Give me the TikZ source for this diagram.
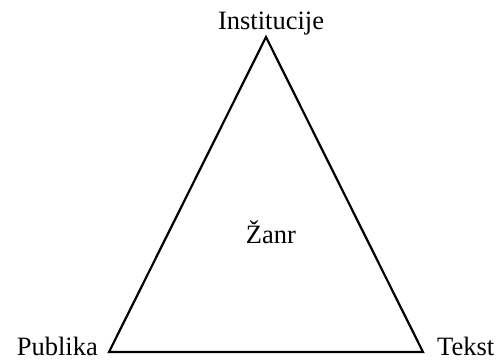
\documentclass[tikz,border=0pt]{standalone}
\usepackage{fontspec}
\setmainfont{Liberation Serif}
\usetikzlibrary{positioning}
\begin{document}
\begin{tikzpicture}[x=1pt, y=1pt,
  lbl/.style={font=\fontsize{26.5}{30}\selectfont, inner sep=0pt},
  side/.style={line width=2.2pt, line join=miter},
]
  \useasboundingbox (0,0) rectangle (500,360);
  % corners
  \coordinate (inst) at (266,323);
  \coordinate (pub)  at (109,8);
  \coordinate (tek)  at (423,8);
  % labels
  \node[lbl, anchor=base]      (linst) at (271,331) {Institucije};
  \node[lbl, anchor=base east] (lpub)  at (98,5)    {Publika};
  \node[lbl, anchor=base west] (ltek)  at (437,5)   {Tekst};
  \node[lbl, anchor=base]      (zanr)  at (271,117) {Žanr};
  % triangle
  \draw[side] (inst) -- (pub) -- (tek) -- cycle;
\end{tikzpicture}
\end{document}
